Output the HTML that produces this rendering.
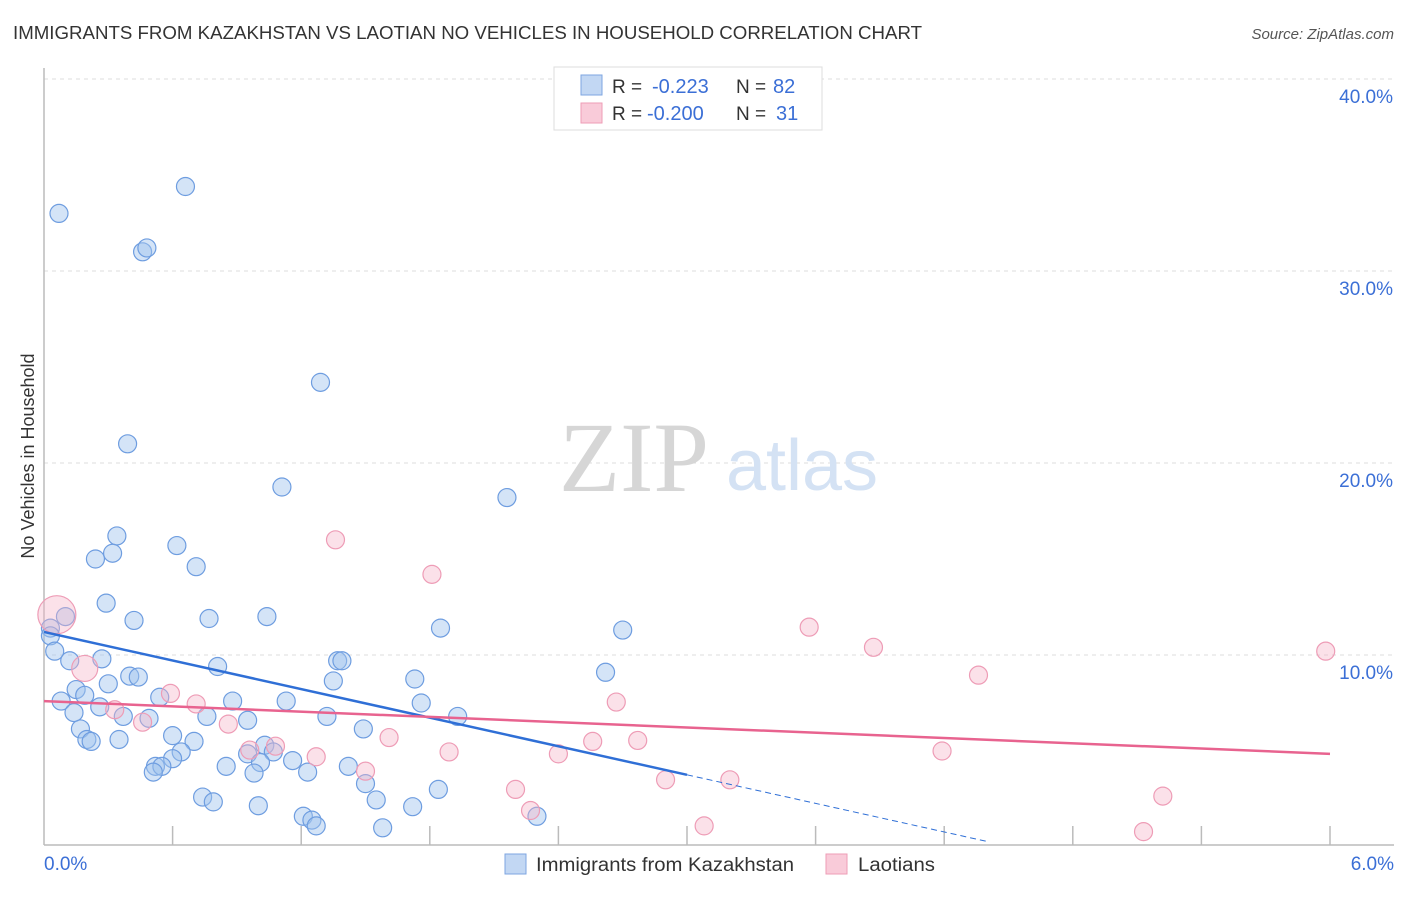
<!DOCTYPE html>
<html><head><meta charset="utf-8"><style>
body{margin:0;background:#fff;font-family:"Liberation Sans",sans-serif;}
</style></head><body>
<svg id="chart" width="1406" height="892" font-family="Liberation Sans, sans-serif">
<text x="13" y="39" font-size="18" fill="#333" textLength="909" lengthAdjust="spacingAndGlyphs">IMMIGRANTS FROM KAZAKHSTAN VS LAOTIAN NO VEHICLES IN HOUSEHOLD CORRELATION CHART</text>
<text x="1394" y="39" font-size="15" fill="#555" text-anchor="end" font-style="italic">Source: ZipAtlas.com</text>
<text transform="translate(34,456) rotate(-90)" font-size="18" fill="#333" text-anchor="middle">No Vehicles in Household</text>
<g id="grid"></g>
<g>
<text x="634" y="491" font-size="100" fill="#d6d6d6" style="font-family:'Liberation Serif',serif" text-anchor="middle">ZIP</text>
<text x="802" y="490" font-size="72" fill="#d4e2f4" text-anchor="middle">atlas</text>
</g>
<g id="pts"></g>
<g id="lines"></g>
<g>
<rect x="554" y="67" width="268" height="63" fill="#fff" stroke="#ddd"/>
<rect x="581" y="75" width="21" height="20" fill="#c2d7f3" stroke="#7ea6e0"/>
<rect x="581" y="103" width="21" height="20" fill="#f9cbd9" stroke="#ee9cb6"/>
<text x="612" y="93" font-size="19" fill="#333">R =</text>
<text x="652" y="93" font-size="20" fill="#3b6fd6">-0.223</text>
<text x="736" y="93" font-size="19" fill="#333">N =</text>
<text x="773" y="93" font-size="20" fill="#3b6fd6">82</text>
<text x="612" y="120" font-size="19" fill="#333">R =</text>
<text x="647" y="120" font-size="20" fill="#3b6fd6">-0.200</text>
<text x="736" y="120" font-size="19" fill="#333">N =</text>
<text x="776" y="120" font-size="20" fill="#3b6fd6">31</text>
</g>
<g>
<rect x="505" y="854" width="21" height="20" fill="#c2d7f3" stroke="#7ea6e0"/>
<text x="536" y="871" font-size="19" fill="#333" textLength="258" lengthAdjust="spacingAndGlyphs">Immigrants from Kazakhstan</text>
<rect x="826" y="854" width="21" height="20" fill="#f9cbd9" stroke="#ee9cb6"/>
<text x="858" y="871" font-size="19" fill="#333" textLength="77" lengthAdjust="spacingAndGlyphs">Laotians</text>
</g>
</svg>
<script>
const xTicks=[0,0.6,1.2,1.8,2.4,3.0,3.6,4.2,4.8,5.4,6.0];
const yTicks=[10,20,30,40];
const yTickLabels=["10.0%","20.0%","30.0%","40.0%"];
const xEndLabels=["0.0%","6.0%"];
const blueX=[0.07,0.66,0.46,0.48,1.29,0.39,1.11,2.16,0.34,0.62,0.24,0.32,0.71,0.29,0.10,0.42,0.77,1.04,1.85,2.70,0.03,0.03,0.05,0.12,0.27,1.37,1.39,0.81,2.62,0.40,0.44,0.30,1.35,1.73,0.15,0.19,0.54,0.08,0.88,1.13,1.76,0.26,0.14,0.49,0.37,0.76,1.32,1.93,0.95,0.17,1.49,0.60,0.20,0.22,0.35,0.70,1.03,0.64,0.60,0.95,1.07,1.16,0.52,0.55,0.85,1.01,1.42,0.51,0.98,1.23,1.50,1.84,0.74,0.79,1.00,1.55,1.72,1.21,1.25,1.27,1.58,2.30];
const blueY=[33.0,34.4,31.0,31.2,24.2,21.0,18.75,18.2,16.2,15.7,15.0,15.3,14.6,12.7,12.0,11.8,11.9,12.0,11.4,11.3,11.4,11.0,10.2,9.7,9.8,9.7,9.7,9.4,9.1,8.9,8.85,8.5,8.65,8.75,8.2,7.9,7.8,7.6,7.6,7.6,7.5,7.3,7.0,6.7,6.8,6.8,6.8,6.8,6.6,6.15,6.15,5.8,5.6,5.5,5.6,5.5,5.3,4.95,4.6,4.85,4.95,4.5,4.2,4.2,4.2,4.4,4.2,3.9,3.85,3.9,3.3,3.0,2.6,2.35,2.15,2.45,2.1,1.6,1.4,1.1,1.0,1.6];
const pinkX=[0.06,0.19,1.36,1.81,3.57,3.87,5.98,4.36,2.67,0.59,0.71,0.33,0.46,0.86,1.61,0.96,1.08,1.27,1.89,2.40,2.56,2.77,1.50,4.19,3.20,2.90,2.20,2.27,3.08,5.22,5.13];
const pinkY=[12.1,9.3,16.0,14.2,11.45,10.4,10.2,8.95,7.55,8.0,7.45,7.15,6.5,6.4,5.7,5.05,5.25,4.7,4.95,4.85,5.5,5.55,3.95,5.0,3.5,3.5,3.0,1.9,1.1,2.65,0.8];
const pinkR=[19,13];
const blueTrend=[11.2,-2.48];
const pinkTrend=[7.6,-0.458];
const NS="http://www.w3.org/2000/svg";
const X=v=>44+v/6*1286, Y=v=>847-v*19.2;
function mk(t,a,p){const e=document.createElementNS(NS,t);for(const k in a)e.setAttribute(k,a[k]);p.appendChild(e);return e;}
const g=document.getElementById('grid');
yTicks.forEach((t,i)=>{
 const l=mk('line',{x1:44,x2:1394,y1:Y(t),y2:Y(t),stroke:'#ddd','stroke-dasharray':'4,4'},g);
 
 
 const tx=mk('text',{x:1393,y:Y(t)+24,'font-size':19,fill:'#3b6fd6','text-anchor':'end'},g);tx.textContent=yTickLabels[i];
 
 
});
const ax=mk('line',{x1:44,x2:1394,y1:845,y2:845,stroke:'#bbb','stroke-width':1.5},g);


const ay=mk('line',{x1:44,x2:44,y1:68,y2:845,stroke:'#bbb','stroke-width':1.5},g);


xTicks.slice(1).forEach(t=>{
 const l=mk('line',{x1:X(t),x2:X(t),y1:826,y2:845,stroke:'#bbb','stroke-width':1.5},g);
 
 
});
[[44,'start'],[1394,'end']].forEach((d,i)=>{
 const tx=mk('text',{x:d[0],y:870,'font-size':19,fill:'#3b6fd6','text-anchor':d[1]},g);tx.textContent=xEndLabels[i];
 
 
});
const p=document.getElementById('pts');
blueX.forEach((x,i)=>{
 const c=mk('circle',{cx:X(x),cy:Y(blueY[i]),r:9,fill:'rgba(160,195,238,0.45)',stroke:'#6e9de0','stroke-width':1.2},p);
 
 
});
pinkX.forEach((x,i)=>{
 const c=mk('circle',{cx:X(x),cy:Y(pinkY[i]),r:pinkR[i]||9,fill:'rgba(246,180,200,0.4)',stroke:'#ee9cb6','stroke-width':1.2},p);
 
 
});
const L=document.getElementById('lines');
const b1=mk('line',{x1:X(0),y1:Y(blueTrend[0]),x2:X(3),y2:Y(blueTrend[0]+blueTrend[1]*3),stroke:'#2f6fd6','stroke-width':2.5},L);


const b2=mk('line',{x1:X(3),y1:Y(blueTrend[0]+blueTrend[1]*3),x2:X(4.41),y2:Y(blueTrend[0]+blueTrend[1]*4.41),stroke:'#2f6fd6','stroke-width':1,'stroke-dasharray':'6,4'},L);


const p1=mk('line',{x1:X(0),y1:Y(pinkTrend[0]),x2:X(6),y2:Y(pinkTrend[0]+pinkTrend[1]*6),stroke:'#e8638f','stroke-width':2.5},L);


</script>
</body></html>
